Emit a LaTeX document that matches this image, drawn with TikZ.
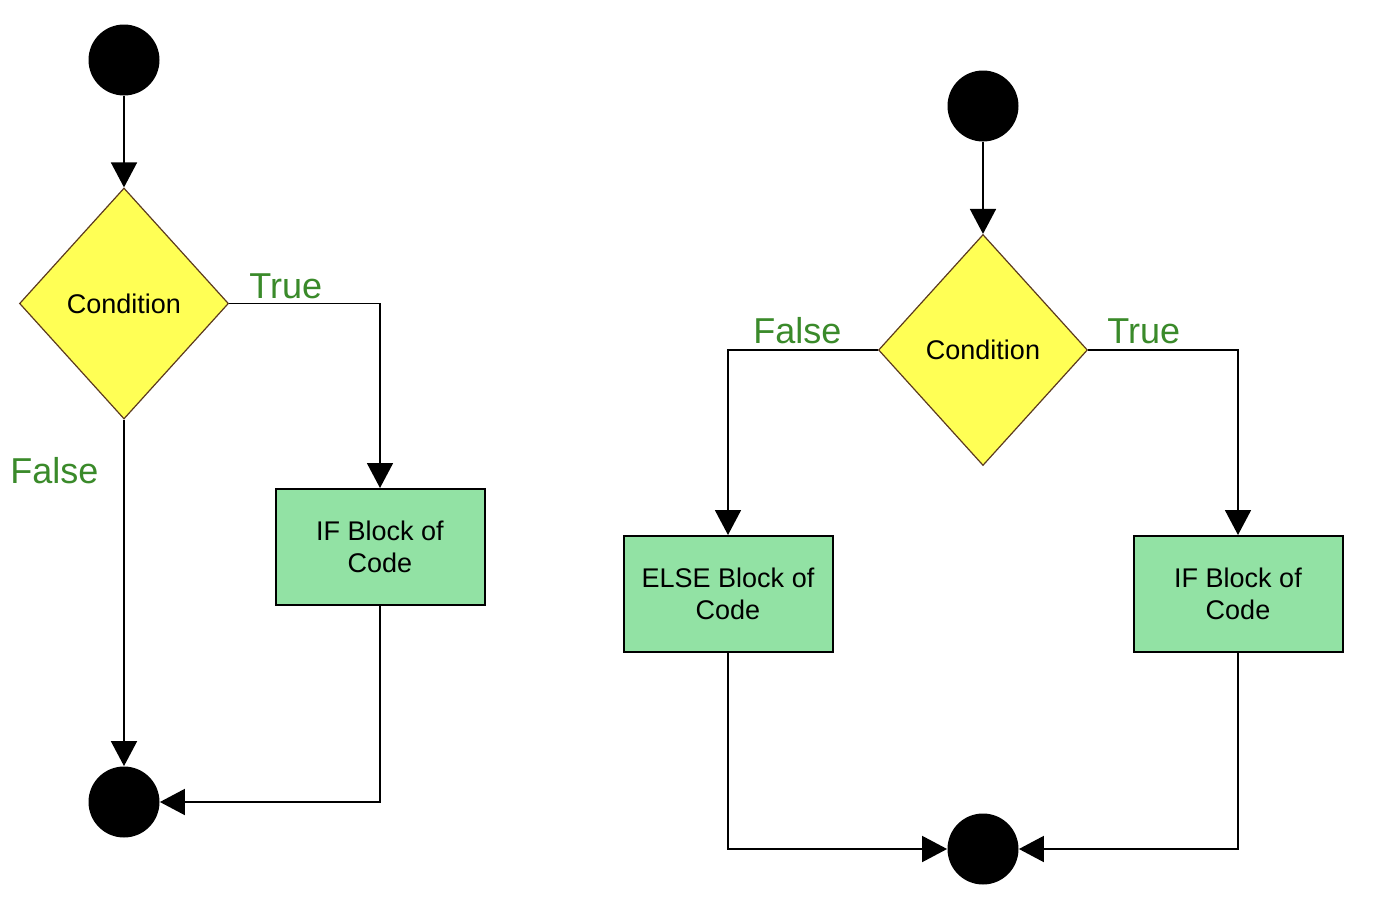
\documentclass[tikz,border=0pt]{standalone}
\usepackage{fontspec}
\setmainfont{Liberation Sans}
\usetikzlibrary{shapes.geometric,arrows.meta}
\definecolor{dyellow}{HTML}{FFFF55}
\definecolor{dbrown}{HTML}{5C3A1E}
\definecolor{bgreen}{HTML}{92E2A4}
\definecolor{lgreen}{HTML}{3A8A2A}
\newcommand{\dn}[1]{\raisebox{-1.5pt}{#1}}
\begin{document}
\begin{tikzpicture}[x=0.5pt,y=-0.5pt,
  startstop/.style={circle,fill=black,minimum size=35.5pt,inner sep=0pt},
  decision/.style={diamond,draw=dbrown,fill=dyellow,line width=0.6pt,minimum width=104.5pt,minimum height=115.5pt,inner sep=0pt,font=\fontsize{13.5}{16}\selectfont},
  block/.style={rectangle,draw=black,fill=bgreen,line width=1pt,minimum width=104.5pt,minimum height=58pt,inner sep=0pt,align=center,font=\fontsize{13.5}{16}\selectfont},
  flow/.style={line width=0.9pt,-{Triangle[length=12.5pt,width=13pt]}},
  lbl/.style={text=lgreen,font=\fontsize{18}{20}\selectfont,inner sep=0pt,anchor=base west}]
\useasboundingbox (0,0) rectangle (1383,910);
% left diagram
\node[startstop] (s1) at (124,60) {};
\node[decision] (d1) at (124,303.5) {\dn{Condition}};
\node[block] (if1) at (380,547) {\dn{IF Block of}\\\dn{Code}};
\node[startstop] (e1) at (124,802) {};
\draw[flow] (s1) -- (d1.north);
\draw[flow] (d1.east) -| (if1.north);
\draw[flow] (d1.south) -- (e1.north);
\draw[flow] (if1.south) |- (e1.east);
\node[lbl] (t1) at (249,298) {True};
\node[lbl] (f1) at (10,483) {False};
% right diagram
\node[startstop] (s2) at (983,106) {};
\node[decision] (d2) at (983,350) {\dn{Condition}};
\node[block] (else2) at (728,594) {\dn{ELSE Block of}\\\dn{Code}};
\node[block] (if2) at (1238,594) {\dn{IF Block of}\\\dn{Code}};
\node[startstop] (e2) at (983,849) {};
\draw[flow] (s2) -- (d2.north);
\draw[flow] (d2.west) -| (else2.north);
\draw[flow] (d2.east) -| (if2.north);
\draw[flow] (else2.south) |- (e2.west);
\draw[flow] (if2.south) |- (e2.east);
\node[lbl] (f2) at (753,343) {False};
\node[lbl] (t2) at (1107,343) {True};
\end{tikzpicture}
\end{document}
